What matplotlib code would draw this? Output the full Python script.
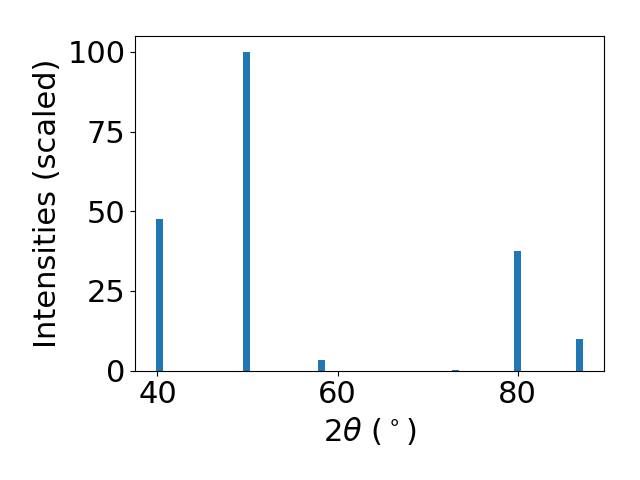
import matplotlib
matplotlib.use("Agg")
import matplotlib.pyplot as plt

# peak positions (2theta, degrees) and scaled intensities
two_theta = [40.25, 49.86, 58.19, 73.1, 80.0, 86.85]
intensities = [47.6, 100.0, 3.4, 0.3, 37.6, 9.95]

plt.rcParams["font.size"] = 22

fig, ax = plt.subplots(figsize=(6.4, 4.8), dpi=100)
ax.bar(two_theta, intensities, width=0.75, color="#1f77b4")
ax.set_xlabel(r"2$\theta$ ($^\circ$)")
ax.set_ylabel("Intensities (scaled)")
ax.set_yticks([0, 25, 50, 75, 100])
ax.set_xticks([40, 60, 80])
fig.subplots_adjust(left=0.211, right=0.944, top=0.925, bottom=0.228)
fig.savefig("out.png", dpi=100)
